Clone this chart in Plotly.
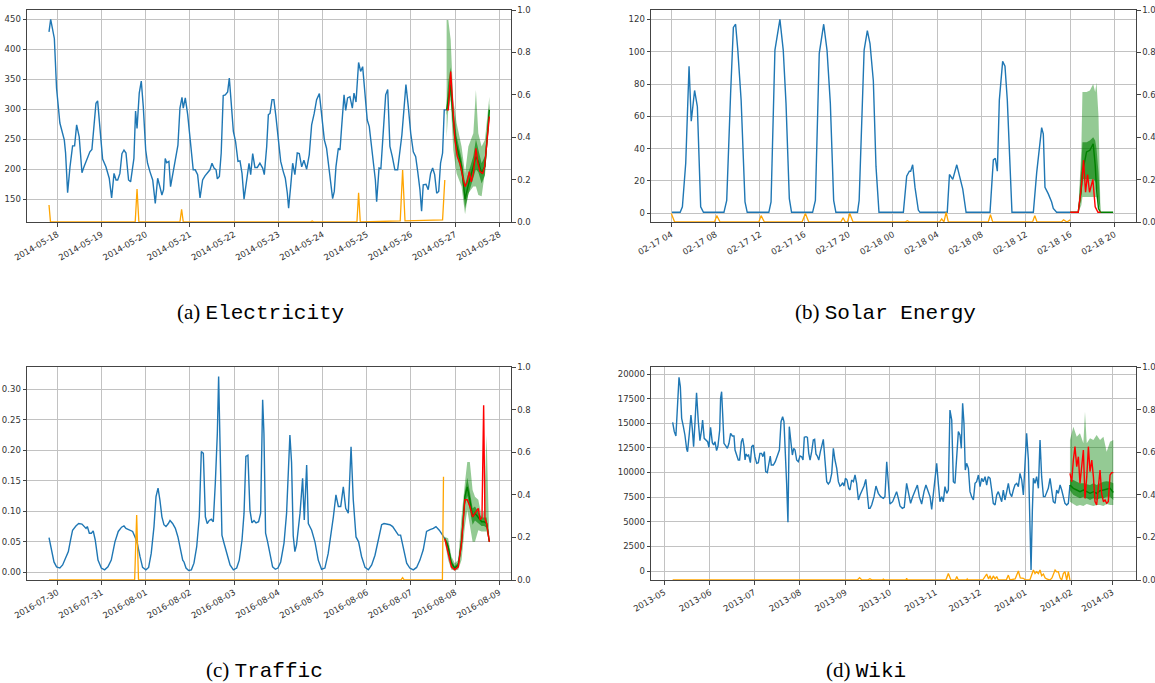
import pandas as pd
import plotly.graph_objects as go

# ---------------- (a) Electricity : hours from 2014-05-18 00:00 ----------------
elec_base = "2014-05-18"
elec_hours = [-4.5,-3.6,-1.6,-0.4,1.4,2.9,3.8,4.5,5.6,6.9,
    8.3,9.4,10.5,11.9,13.4,14.5,16.3,17.7,18.8,20.1,
    21.0,21.9,23.2,24.6,26.4,28.2,29.5,30.8,31.9,32.8,
    34.0,35.1,36.2,37.3,38.7,39.8,41.6,42.5,43.3,44.5,
    45.6,46.7,48.0,49.0,50.3,51.8,53.2,54.5,55.7,56.8,
    57.7,58.6,59.4,60.6,61.5,63.0,64.4,65.5,66.6,67.7,
    68.4,69.5,70.8,72.4,73.8,74.9,76.2,77.5,78.9,80.2,
    81.4,82.9,84.0,85.1,86.2,86.9,88.0,89.0,90.1,91.2,
    92.5,93.4,94.3,95.6,96.8,98.1,99.2,100.3,101.4,102.8,
    104.1,105.0,106.1,107.3,108.6,110.0,111.5,112.4,113.7,114.6,
    115.5,116.6,117.6,118.7,120.2,121.3,122.7,123.8,124.9,125.6,
    126.7,127.8,129.0,130.3,131.4,132.7,133.9,135.4,136.8,138.1,
    139.5,140.8,142.3,143.5,145.0,146.2,147.5,148.6,149.5,150.4,
    151.3,152.6,153.5,154.4,155.7,156.6,157.6,158.9,160.2,161.1,
    162.2,163.6,164.7,165.8,167.1,168.3,169.4,170.7,171.6,172.7,
    173.4,174.7,175.7,177.0,178.3,179.4,180.6,181.9,183.3,184.8,
    186.1,187.1,188.2,189.3,190.6,191.9,193.3,194.6,195.7,196.9,
    197.8,198.7,200.2,201.4,202.7,203.8,204.9,206.0,207.1,208.1,
    209.2,210.1,211.4]
elec_values = [429,450,418,335,277,260,249,227,161,204,
    239,239,274,254,194,204,217,229,233,279,
    310,314,271,217,204,185,152,193,182,182,
    193,226,232,227,182,179,218,297,268,327,
    347,304,232,210,196,182,143,185,171,157,
    166,218,211,213,171,199,224,240,302,320,
    302,319,291,243,199,199,191,152,182,189,
    194,199,210,202,199,184,188,227,323,324,
    329,352,316,263,246,213,214,193,150,185,
    210,191,226,203,203,210,202,191,238,291,
    293,316,316,288,243,213,196,185,160,135,
    171,210,191,227,226,204,215,200,224,274,
    293,316,326,293,249,235,204,171,151,163,
    204,235,232,271,324,298,319,321,302,327,
    312,378,363,371,321,282,271,232,211,182,
    146,202,201,271,324,333,238,221,199,199,
    227,257,299,341,304,260,229,221,196,166,
    130,174,175,166,193,202,191,160,163,210,
    227,299,299]
elec_fc_hours = [211.4,212.3,213.6,215.0,216.8,219.5,221.4,223.2,225.9,227.3,228.6,230.4,232.2,234.6]
elec_hi = [449,449,416,316,277,238,193,238,260,332,260,238,249,321]
elec_lo = [252,299,316,232,193,171,125,160,171,171,157,155,195,282]
elec_hi_in = [310,345,370,300,255,218,175,195,222,250,232,210,222,310]
elec_lo_in = [290,305,325,262,225,192,135,158,186,200,195,176,190,290]
elec_mid = [299,320,341,282,240,205,150,174,204,221,213,193,205,299]
elec_true_hours = [211.4,212.3,213.6,214.7,215.9,217.2,218.6,220.1,221.4,222.6,223.7,224.8,225.9,227.3,228.4,229.5,231.0,232.0,233.1,234.6]
elec_true = [299,299,363,299,249,221,210,188,171,179,196,179,193,235,210,196,193,204,238,288]
elec_ind_hours = [-4.5,-3.7,42.3,43.3,44.3,66.6,67.5,68.4,137.5,138.4,139.3,162.7,163.6,164.5,186.2,187.5,188.8,209.2,210.4]
elec_ind = [0.08,0,0,0.155,0,0,0.06,0,0,0.005,0,0,0.138,0,0.005,0.245,0.005,0.01,0.198]

# ---------------- (b) Solar Energy : hours from 02-17 04:00 ----------------
solar_base = "2006-02-17 04:00"
solar_hours = [0.06,0.8,1.0,1.3,1.6,1.8,2.1,2.35,2.65,2.9,
    4.75,5.0,5.35,5.6,5.8,6.0,6.3,6.65,6.85,
    8.8,9.0,9.35,9.8,10.1,10.35,10.65,10.85,
    12.75,13.0,13.35,13.75,14.05,14.35,14.65,14.85,
    16.8,16.95,17.4,17.69,17.93,18.23,18.47,18.74,
    20.94,21.24,21.48,21.6,21.78,21.99,22.29,22.44,
    24.9,25.1,25.4,25.76,26.06,26.3,26.6,
    28.76,29.06,29.24,29.42,29.6,29.9,30.11,30.32,30.56,30.74,
    32.67,32.97,33.42,33.57,33.72,34.02,34.32,34.47,34.77,36.0]
solar_values = [0.6,0.6,4,31,91,57,76,66,4,0.6,
    0.6,8,74,115,117,101,70,7,0.6,
    0.6,7,101,120,101,68,9,0.6,
    0.6,8,99,117,101,68,8,0.6,
    0.6,8,101,113,105,82,29,0.6,
    0.6,23,26,26,30,16,2,0.6,
    0.6,24,21,30,21,15,0.6,
    0.6,33,34,26,70,94,91,70,25,0.6,
    0.6,25,53,49,16,12,7,3,0.6,0.6]
solar_fc_hours = [36.0,36.72,37.0,37.1,37.47,37.77,38.07,38.25,38.37,38.55,38.73,39.87]
solar_hi = [0.6,0.6,40,75,75,76,80,75,81,60,0.6,0.6]
solar_lo = [0.6,0.6,5,10,10,10,10,10,10,5,0.6,0.6]
solar_hi_in = [0.6,0.6,30,44,44,45,47,45,40,25,0.6,0.6]
solar_lo_in = [0.6,0.6,10,21,21,21,21,20,18,8,0.6,0.6]
solar_mid = [0.6,0.6,15,25,38,39,43,30,15,3,0.6,0.6]
solar_true_hours = [36.0,36.72,37.0,37.2,37.38,37.56,37.74,38.04,38.25,38.5,38.73]
solar_true = [0.6,0.6,16,33,13,24,13,21,4,0.6,0.6]
solar_ind_hours = [0.0,0.3,0.6,3.9,4.1,4.4,7.9,8.1,8.4,11.8,12.1,12.4,15.3,15.5,15.7,15.9,16.1,16.4,
    21.1,21.3,21.5,24.2,24.4,24.6,24.8,25.0,28.6,28.8,29.0,32.6,32.8,33.0,35.2,35.4,35.7,36.0]
solar_ind = [0.04,0,0,0,0.03,0,0,0.03,0,0,0.04,0,0,0.02,0,0,0.04,0,
    0,0.006,0,0,0.015,0,0.045,0,0,0.035,0,0,0.03,0,0,0.01,0,0.01]

# ---------------- (c) Traffic : hours from 2016-07-30 00:00 ----------------
traffic_base = "2016-07-30"
traffic_hours = [-4.5,-3.1,-1.8,-0.4,1.4,2.9,4.2,6.0,7.2,8.3,
    10.1,11.6,13.4,14.5,15.6,16.3,17.4,18.5,19.5,20.6,
    22.1,23.9,25.7,27.5,29.3,31.3,33.1,34.9,36.2,37.3,
    39.1,40.9,42.2,43.4,44.9,46.3,48.1,49.6,51.0,52.5,
    53.6,54.7,55.7,56.8,57.9,59.0,60.3,61.2,62.6,64.1,
    65.5,66.6,68.1,68.8,69.9,71.3,72.8,74.2,75.7,77.1,
    78.2,79.3,80.4,81.4,82.5,83.6,84.7,85.8,86.9,87.6,
    88.3,89.4,90.5,91.9,93.8,95.6,97.4,98.8,100.3,101.4,
    102.4,103.5,104.6,105.7,106.8,107.9,109.3,110.4,111.5,112.2,
    113.1,114.2,115.5,116.9,118.4,119.8,121.3,123.1,124.5,125.4,
    126.3,127.2,128.1,129.0,129.9,131.8,133.2,134.1,135.4,136.3,
    138.1,139.9,141.7,143.5,145.3,147.1,148.4,149.9,151.3,152.6,
    153.9,155.3,156.6,158.0,159.5,160.7,162.2,163.6,165.2,167.1,
    168.9,170.7,172.5,174.3,176.1,177.4,178.8,180.6,182.1,183.3,
    185.2,186.4,188.2,189.7,191.4,193.3,195.1,196.9,198.7,200.5,
    202.4,204.2,205.6,207.4,209.2,210.4]
traffic_values = [0.057,0.037,0.017,0.009,0.007,0.012,0.021,0.034,0.053,0.069,
    0.076,0.080,0.079,0.076,0.072,0.075,0.064,0.064,0.068,0.053,
    0.020,0.007,0.004,0.009,0.020,0.050,0.067,0.074,0.076,0.072,
    0.069,0.067,0.058,0.048,0.026,0.008,0.004,0.008,0.031,0.075,
    0.124,0.138,0.119,0.091,0.078,0.075,0.080,0.085,0.080,0.072,
    0.058,0.042,0.020,0.017,0.007,0.003,0.004,0.015,0.042,0.091,
    0.198,0.195,0.091,0.080,0.085,0.087,0.083,0.146,0.228,0.321,
    0.201,0.061,0.048,0.034,0.012,0.004,0.007,0.020,0.053,0.097,
    0.190,0.192,0.102,0.081,0.085,0.081,0.083,0.097,0.283,0.228,
    0.064,0.050,0.031,0.009,0.005,0.007,0.017,0.048,0.097,0.180,
    0.225,0.180,0.060,0.034,0.045,0.097,0.154,0.086,0.176,0.080,
    0.069,0.050,0.020,0.005,0.007,0.031,0.058,0.091,0.127,0.108,
    0.108,0.140,0.105,0.097,0.206,0.119,0.058,0.050,0.026,0.008,
    0.004,0.012,0.028,0.056,0.078,0.080,0.079,0.078,0.075,0.069,
    0.061,0.061,0.037,0.015,0.007,0.004,0.008,0.020,0.037,0.067,
    0.070,0.072,0.075,0.069,0.061,0.055]
traffic_fc_hours = [210.4,212.2,214.0,215.8,217.7,219.5,221.3,222.6,224.0,225.5,226.8,228.6,230.4,231.7,233.1,234.6]
traffic_hi = [0.058,0.056,0.026,0.015,0.020,0.091,0.146,0.181,0.181,0.135,0.124,0.119,0.091,0.102,0.225,0.053]
traffic_lo = [0.050,0.020,0.004,0.003,0.004,0.020,0.075,0.102,0.080,0.050,0.050,0.069,0.067,0.067,0.067,0.048]
traffic_hi_in = [0.057,0.048,0.020,0.010,0.016,0.065,0.132,0.155,0.132,0.105,0.108,0.100,0.090,0.090,0.090,0.052]
traffic_lo_in = [0.052,0.035,0.010,0.004,0.008,0.038,0.110,0.125,0.105,0.078,0.085,0.080,0.076,0.076,0.073,0.049]
traffic_mid = [0.055,0.042,0.015,0.007,0.012,0.050,0.124,0.140,0.119,0.091,0.097,0.089,0.083,0.083,0.080,0.050]
traffic_true_hours = [210.4,212.2,214.0,215.8,217.7,219.5,221.3,222.6,224.0,225.5,226.8,228.6,229.5,230.6,231.5,232.2,233.1,234.6]
traffic_true = [0.055,0.031,0.009,0.004,0.009,0.048,0.119,0.119,0.108,0.091,0.097,0.105,0.086,0.090,0.274,0.089,0.080,0.050]
traffic_ind_hours = [-4.5,42.0,43.1,44.1,186.6,187.5,188.4,209.1,209.7]
traffic_ind = [0,0,0.305,0,0,0.011,0,0,0.485]

# ---------------- (d) Wiki : days from 2013-05-01 ----------------
wiki_base = "2013-05-01"
wiki_days = [5.7,6.8,7.9,9.0,10.0,10.9,11.8,12.9,14.0,15.2,15.8,17.0,18.1,19.0,19.9,20.8,21.9,23.1,24.2,25.3,
    26.0,27.1,28.3,29.4,30.3,31.4,32.6,33.5,34.4,35.5,36.4,37.6,38.2,38.9,39.6,40.5,41.6,42.8,43.9,45.0,
    46.2,47.3,48.0,49.1,50.2,51.1,52.3,53.2,54.1,54.8,55.4,56.3,57.2,58.4,59.3,60.4,61.5,62.7,63.8,64.9,
    66.0,66.9,67.9,68.8,69.9,70.8,71.9,72.6,74.0,75.3,76.7,78.1,79.2,80.3,81.2,82.1,83.0,83.9,84.8,86.0,
    86.9,87.8,88.7,89.8,90.9,92.1,93.2,94.1,95.0,96.2,97.1,98.0,98.9,100.0,101.1,102.0,102.9,103.8,104.8,105.9,
    106.8,107.9,109.0,110.2,111.3,112.4,113.6,114.7,115.8,117.0,118.1,119.2,120.1,121.0,121.9,122.9,124.0,125.1,126.0,127.1,
    128.3,129.4,130.5,131.7,132.8,134.2,135.5,136.7,137.8,138.7,139.6,140.7,142.3,143.6,145.2,146.8,148.6,149.7,150.9,152.0,
    153.1,154.9,156.5,157.6,158.8,159.9,161.5,162.8,164.4,165.8,167.1,168.5,170.1,171.7,173.0,174.6,176.2,177.5,179.1,180.3,
    181.4,183.0,184.8,185.9,187.0,188.2,189.3,190.4,191.6,192.7,193.8,195.0,196.1,197.2,198.4,199.5,200.6,201.5,202.4,203.3,
    204.2,205.1,206.3,207.4,208.5,209.7,210.8,211.9,213.1,214.2,215.3,216.4,217.6,218.7,219.8,221.0,222.1,223.2,224.4,225.5,
    226.6,227.8,228.9,230.0,231.1,232.3,233.4,234.5,235.7,236.8,237.9,239.1,240.2,241.3,242.5,243.6,244.7,245.8,247.0,248.1,
    248.8,249.7,250.4,251.5,252.6,253.8,254.9,256.0,257.2,258.3,259.4,260.5,261.7,262.8,263.9,265.1,266.2,267.3,268.5,269.6,
    270.7,271.8,273.0,274.1,275.2]
wiki_values = [15093,14145,13705,17360,19661,18714,15499,14720,13807,12385,12115,13976,15837,14484,12622,14991,18104,15160,13231,14314,
    15330,13468,13231,13130,12555,14585,13028,12791,13130,12216,12690,14314,17529,18206,16006,12961,12724,12453,12961,13976,
    13705,13705,12284,11776,11268,11268,13130,13468,12622,11268,11877,11674,11776,10998,12622,12791,11607,10930,10998,11945,
    11945,11607,12115,10084,9983,10761,11674,10761,10761,11099,11776,12284,15160,15668,15160,12622,8900,4941,14653,12961,
    11776,12453,12284,11268,11099,11674,11607,11268,13570,13637,13570,11945,11268,12115,13299,13367,11877,11674,11268,12115,
    12791,13367,11268,9069,8832,9069,9915,12453,11268,10423,9069,8629,8731,8968,8629,9407,9238,8392,8223,9238,
    9069,9746,8900,7208,7716,8223,8629,9306,7377,6362,6362,6700,7546,8629,7885,7546,7377,7546,11099,9069,
    6802,7039,7546,8054,7377,6599,6362,6463,8900,7885,6870,7546,8054,8731,7546,6802,8054,8731,8054,7546,
    6260,8223,10930,8900,7039,7546,7039,8562,7885,8223,16344,15330,9069,8900,12115,14145,13807,12453,17021,14991,
    10254,10930,10423,8054,7546,7208,8900,9069,9746,8562,9407,9069,9577,8731,9577,9407,8223,6870,6700,7716,
    8054,7546,7039,8223,7208,8054,8900,7885,7546,8223,8731,8900,8562,9915,9238,7716,10761,13976,11269,5516,
    100,6193,9407,8900,9577,8392,13299,9577,7546,7546,7885,8392,9407,8223,7039,6870,8223,7885,8731,8223,
    7377,6870,6700,6870,8731]
wiki_fc_days = [275.2,277.5,279.8,282.0,284.3,285.4,286.6,288.8,291.1,293.3,295.6,297.9,300.1,302.4,304.6]
wiki_hi = [13299,14653,13637,13976,12961,16175,12961,13468,13299,13807,13299,13637,12115,13130,13299]
wiki_lo = [7039,6802,6599,6700,6599,6700,6802,6700,6599,6700,6700,6599,6802,6700,6700]
wiki_hi_in = [9300,9238,9069,8900,8900,8900,8800,8731,8900,8731,8900,9069,9100,9069,8900]
wiki_lo_in = [8200,7716,7546,7377,7546,7377,7377,7208,7377,7208,7377,7377,7546,7546,7208]
wiki_mid = [8731,8392,8223,8054,8223,8100,8054,7885,8054,7885,8150,8223,8300,8392,7970]
wiki_true_days = [275.2,276.4,277.5,278.6,279.8,280.9,282.0,283.2,284.3,285.4,286.6,287.7,288.8,290.0,291.1,292.2,293.3,294.5,295.6,296.7,297.9,299.0,300.1,301.2,302.4,303.5,304.6]
wiki_true = [9915,9069,11269,12622,10592,11607,8900,11099,12284,7377,9577,12622,10084,11269,9577,7039,6700,8562,10254,7885,7039,7208,6870,7039,9746,9983,9983]
wiki_ind_days = [5.7,131,132.5,134,138,139.5,141,148,148.6,149.5,164,164.4,165,191,192.7,194.5,197.5,198.4,199.5,205,205.5,206,
    216,218.7,220,221,222,223.2,224.4,225.5,226.6,232,233.4,234.5,238,240.2,241.5,243.6,245,248,250.4,251.5,252.6,253.8,
    254.9,256,257.2,258.3,259.4,261.7,263,265.1,266.2,267.3,268.5,269.6,270.7,271.8,273,274.1,275.2]
wiki_ind = [0,0,0.011,0,0,0.006,0,0,0.004,0,0,0.008,0,0,0.031,0,0,0.016,0,0,0.005,0,
    0,0.028,0.005,0.02,0,0.019,0.005,0.016,0,0,0.023,0,0.005,0.042,0.01,0.008,0,0,0.047,0.03,0.039,0.03,
    0.047,0.02,0.028,0.01,0.005,0,0.01,0.047,0.038,0.039,0.01,0,0.03,0.039,0,0.039,0]

captions = ["(a) ", "(b) ", "(c) ", "(d) "]
caption_names = ["Electricity", "Solar Energy", "Traffic", "Wiki"]

# ---------------- styling ----------------
BLUE = "#1f77b4"
ORANGE = "#ffa500"
RED = "#ff0000"
GREEN = "#008000"
LIGHT = "rgba(0,128,0,0.42)"
DARK = "rgba(0,128,0,0.62)"
TICKFONT = dict(family="DejaVu Sans", size=8.5, color="#333")
GRID = "#c2c2c2"
LINE = "#444"


def t_of(base, offsets, unit):
    return list(pd.Timestamp(base) + pd.to_timedelta(offsets, unit=unit))


fig = go.Figure()


def add_panel(idx, base, unit, xs, ys, fcx, hi, lo, hi_in, lo_in, mid, tx, tv, ix, iv):
    xa = "x" if idx == 1 else f"x{idx}"
    yl = "y" if idx == 1 else f"y{2 * idx - 1}"
    yr = f"y{2 * idx}"
    t = t_of(base, xs, unit)
    tf = t_of(base, fcx, unit)
    fig.add_trace(go.Scatter(x=t, y=ys, mode="lines", line=dict(color=BLUE, width=1.4),
                             xaxis=xa, yaxis=yl, showlegend=False))
    fig.add_trace(go.Scatter(x=tf + tf[::-1], y=hi + lo[::-1], fill="toself", fillcolor=LIGHT,
                             line=dict(width=0), mode="lines", xaxis=xa, yaxis=yl, showlegend=False))
    fig.add_trace(go.Scatter(x=tf + tf[::-1], y=hi_in + lo_in[::-1], fill="toself", fillcolor=DARK,
                             line=dict(width=0), mode="lines", xaxis=xa, yaxis=yl, showlegend=False))
    fig.add_trace(go.Scatter(x=tf, y=mid, mode="lines", line=dict(color=GREEN, width=1.4),
                             xaxis=xa, yaxis=yl, showlegend=False))
    fig.add_trace(go.Scatter(x=t_of(base, tx, unit), y=tv, mode="lines", line=dict(color=RED, width=1.4),
                             xaxis=xa, yaxis=yl, showlegend=False))
    fig.add_trace(go.Scatter(x=t_of(base, ix, unit), y=iv, mode="lines", line=dict(color=ORANGE, width=1.3),
                             xaxis=xa, yaxis=yr, showlegend=False))


add_panel(1, elec_base, "h", elec_hours, elec_values, elec_fc_hours, elec_hi, elec_lo, elec_hi_in, elec_lo_in,
          elec_mid, elec_true_hours, elec_true, elec_ind_hours, elec_ind)
add_panel(2, solar_base, "h", solar_hours, solar_values, solar_fc_hours, solar_hi, solar_lo, solar_hi_in,
          solar_lo_in, solar_mid, solar_true_hours, solar_true, solar_ind_hours, solar_ind)
add_panel(3, traffic_base, "h", traffic_hours, traffic_values, traffic_fc_hours, traffic_hi, traffic_lo,
          traffic_hi_in, traffic_lo_in, traffic_mid, traffic_true_hours, traffic_true, traffic_ind_hours, traffic_ind)
add_panel(4, wiki_base, "D", wiki_days, wiki_values, wiki_fc_days, wiki_hi, wiki_lo, wiki_hi_in, wiki_lo_in,
          wiki_mid, wiki_true_days, wiki_true, wiki_ind_days, wiki_ind)

W, H = 1155, 683


def xd(a, b):
    return [a / W, b / W]


def yd(top, bottom):
    return [1 - bottom / H, 1 - top / H]


xdom_l = xd(27, 511)
xdom_r = xd(651, 1136)
ydom_t = yd(10, 222)
ydom_b = yd(367, 580)

panels = [
    dict(xd=xdom_l, yd=ydom_t, xr=["2014-05-17 07:33", "2014-05-28 06:21"], dtick=86400000, tick0="2014-05-18",
         fmt="%Y-%m-%d", yr=[112, 465.5], ydt=50, yfmt="d"),
    dict(xd=xdom_r, yd=ydom_t, xr=["2006-02-17 02:10", "2006-02-18 21:56"], dtick=14400000, tick0="2006-02-17",
         fmt="%m-%d %H", yr=[-5.4, 125.8], ydt=20, yfmt="d"),
    dict(xd=xdom_l, yd=ydom_b, xr=["2016-07-29 07:33", "2016-08-09 06:21"], dtick=86400000, tick0="2016-07-30",
         fmt="%Y-%m-%d", yr=[-0.0126, 0.3366], ydt=0.05, yfmt=".2f"),
    dict(xd=xdom_r, yd=ydom_b, xr=["2013-04-22", "2014-03-17"], dtick="M1", tick0="2013-05-01",
         fmt="%Y-%m", yr=[-914, 20711], ydt=2500, yfmt="d"),
]

layout = dict(width=W, height=H, margin=dict(l=0, r=0, t=0, b=0), paper_bgcolor="white",
              plot_bgcolor="white", showlegend=False)
common_tick = dict(ticks="outside", ticklen=3.5, tickwidth=0.8, tickcolor=LINE, tickfont=TICKFONT,
                   showline=True, linecolor=LINE, linewidth=1, automargin=False,
                   ticklabeloverflow="allow")
for i, p in enumerate(panels, start=1):
    xk = "xaxis" if i == 1 else f"xaxis{i}"
    ylk = "yaxis" if i == 1 else f"yaxis{2 * i - 1}"
    yrk = f"yaxis{2 * i}"
    yl_name = "y" if i == 1 else f"y{2 * i - 1}"
    x_name = "x" if i == 1 else f"x{i}"
    layout[xk] = dict(domain=p["xd"], anchor=yl_name, type="date", range=p["xr"], dtick=p["dtick"],
                      tick0=p["tick0"], tickformat=p["fmt"], tickangle=-30, showgrid=True, gridcolor=GRID,
                      gridwidth=0.8, mirror=True, zeroline=False, **common_tick)
    layout[ylk] = dict(domain=p["yd"], anchor=x_name, range=p["yr"], dtick=p["ydt"], tickformat=p["yfmt"],
                       showgrid=True, gridcolor=GRID, gridwidth=0.8, zeroline=False, **common_tick)
    layout[yrk] = dict(overlaying=yl_name, side="right", anchor=x_name, range=[0, 1], dtick=0.2,
                       tickformat=".1f", showgrid=False, zeroline=False, **common_tick)

cap_pos = [(260, 313), (885, 313), (264, 670), (866, 670)]
annotations = []
for (cx, cy), c, name in zip(cap_pos, captions, caption_names):
    annotations.append(dict(
        xref="paper", yref="paper", x=cx / W, y=1 - cy / H, xanchor="center",
        yanchor="middle", showarrow=False,
        text=f'<span style="font-family:Liberation Serif">{c}</span>'
             f'<span style="font-family:Liberation Mono">{name}</span>',
        font=dict(size=21, color="black", family="Liberation Serif")))
layout["annotations"] = annotations

fig.update_layout(**layout)
# remove the page's default 8px body margin so the figure fills the window exactly
fig.write_html("out.html", config={"displayModeBar": False},
               post_script="document.body.style.margin='0px';")
